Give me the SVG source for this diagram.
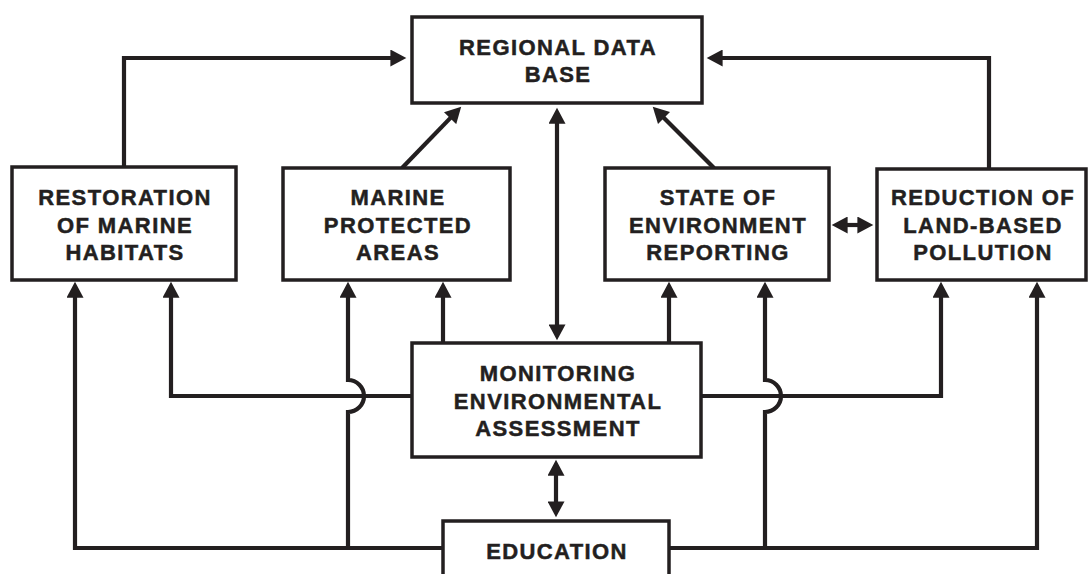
<svg xmlns="http://www.w3.org/2000/svg" width="1090" height="574" viewBox="0 0 1090 574">
<style>
.box{fill:#fff;stroke:#231f20;stroke-width:3.5}
.lbl{font-family:"Liberation Sans",Arial,sans-serif;font-weight:bold;font-size:22px;letter-spacing:1.4px;fill:#231f20;stroke:#231f20;stroke-width:0.5;text-anchor:middle}
.c{fill:none;stroke:#231f20;stroke-width:4.2}
</style>
<defs>
<marker id="ah" markerUnits="userSpaceOnUse" markerWidth="17" markerHeight="17" viewBox="0 0 15 16" refX="10" refY="8" orient="auto-start-reverse">
<path d="M0,0 L15,8 L0,16 z" fill="#231f20"/>
</marker>
</defs>
<rect width="1090" height="574" fill="#fff"/>
<g id="connectors">
<path class="c" d="M124,167 V58 H401" marker-end="url(#ah)"/>
<line class="c" x1="402" y1="168" x2="457.5" y2="110.6" marker-end="url(#ah)"/>
<line class="c" x1="557" y1="113" x2="557" y2="335" marker-start="url(#ah)" marker-end="url(#ah)"/>
<line class="c" x1="714" y1="168" x2="656.5" y2="110.5" marker-end="url(#ah)"/>
<path class="c" d="M989,168 V58 H712" marker-end="url(#ah)"/>
<line class="c" x1="837" y1="225" x2="868" y2="225" marker-start="url(#ah)" marker-end="url(#ah)"/>
<path class="c" d="M412,396 H171 V287" marker-end="url(#ah)"/>
<path class="c" d="M348,548 V412 A16,16 0 0 0 348,380 V287" marker-end="url(#ah)"/>
<path class="c" d="M443,548 H75 V287" marker-end="url(#ah)"/>
<path class="c" d="M443,343 V287" marker-end="url(#ah)"/>
<path class="c" d="M669,343 V287" marker-end="url(#ah)"/>
<path class="c" d="M701,396 H941 V287" marker-end="url(#ah)"/>
<path class="c" d="M765,548 V412 A16,16 0 0 0 765,380 V287" marker-end="url(#ah)"/>
<path class="c" d="M669,548 H1037 V287" marker-end="url(#ah)"/>
<line class="c" x1="556" y1="465" x2="556" y2="512" marker-start="url(#ah)" marker-end="url(#ah)"/>
</g>
<g id="regional">
<rect class="box" x="412" y="17" width="290" height="86"/>
<text class="lbl" x="558" y="55">REGIONAL DATA</text>
<text class="lbl" x="558" y="82">BASE</text>
</g>
<g id="restoration">
<rect class="box" x="12" y="167" width="224" height="113"/>
<text class="lbl" x="125" y="205">RESTORATION</text>
<text class="lbl" x="125" y="233">OF MARINE</text>
<text class="lbl" x="125" y="260">HABITATS</text>
</g>
<g id="marine">
<rect class="box" x="283" y="168" width="227" height="112"/>
<text class="lbl" x="398" y="205">MARINE</text>
<text class="lbl" x="398" y="233">PROTECTED</text>
<text class="lbl" x="398" y="260">AREAS</text>
</g>
<g id="state">
<rect class="box" x="605" y="168" width="224" height="112"/>
<text class="lbl" x="718" y="205">STATE OF</text>
<text class="lbl" x="718" y="233">ENVIRONMENT</text>
<text class="lbl" x="718" y="260">REPORTING</text>
</g>
<g id="reduction">
<rect class="box" x="877" y="169" width="209" height="111"/>
<text class="lbl" x="983" y="205">REDUCTION OF</text>
<text class="lbl" x="983" y="233">LAND-BASED</text>
<text class="lbl" x="983" y="260">POLLUTION</text>
</g>
<g id="monitoring">
<rect class="box" x="412" y="343" width="289" height="114"/>
<text class="lbl" x="558" y="381">MONITORING</text>
<text class="lbl" x="558" y="409">ENVIRONMENTAL</text>
<text class="lbl" x="558" y="436">ASSESSMENT</text>
</g>
<g id="education">
<rect class="box" x="443" y="521" width="226" height="80"/>
<text class="lbl" x="557" y="559">EDUCATION</text>
</g>
</svg>
